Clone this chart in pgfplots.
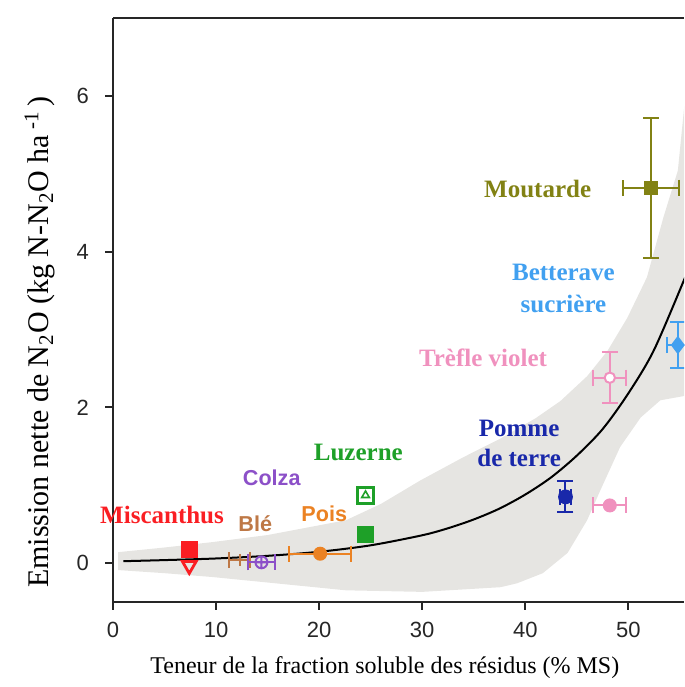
\documentclass[border=0pt]{standalone}
\usepackage{fontspec}
\setmainfont{Liberation Serif}
\setsansfont{Liberation Sans}
\usepackage{pgfplots}
\pgfplotsset{compat=1.18}

\definecolor{bandgray}{RGB}{230,229,226}
\definecolor{cmisc}{RGB}{250,30,35}
\definecolor{cble}{RGB}{190,120,70}
\definecolor{ccolza}{RGB}{140,80,200}
\definecolor{cpois}{RGB}{235,130,35}
\definecolor{cluz}{RGB}{30,160,40}
\definecolor{cmout}{RGB}{130,130,20}
\definecolor{cbett}{RGB}{65,160,240}
\definecolor{ctrefle}{RGB}{240,145,190}
\definecolor{cpomme}{RGB}{25,40,170}

\pgfplotsset{
  eb/.style={only marks, line width=1pt,
    error bars/x dir=both, error bars/x explicit,
    error bars/y dir=both, error bars/y explicit,
    error bars/error bar style={line width=1pt},
    error bars/error mark options={rotate=90, line width=1pt, mark size=4pt}},
}
\tikzset{
  serlab/.style={font=\bfseries\fontsize{12.5}{15}\selectfont, align=center},
  sanslab/.style={font=\sffamily\bfseries\fontsize{10.8}{13}\selectfont},
}

\begin{document}
\begin{tikzpicture}
\begin{axis}[
  scale only axis, width=285.5pt, height=292pt,
  xmin=0, xmax=55.4, ymin=-0.5, ymax=7,
  clip mode=individual,
  axis lines=left,
  axis line style={-, line width=1pt, black!85},
  xtick={0,10,...,50}, ytick={0,2,4,6},
  tick align=outside, major tick length=4pt,
  tick style={line width=1pt, black!85},
  ticklabel style={font=\sffamily\fontsize{11}{13}\selectfont, text=black!85},
  xticklabel style={yshift=-2.5pt},
  yticklabel style={xshift=-4.5pt},
  /pgf/number format/assume math mode=true,
  xlabel={Teneur de la fraction soluble des résidus (\% MS)},
  ylabel={Emission nette de N\textsubscript{2}O (kg N-N\textsubscript{2}O ha\,\textsuperscript{-1}\,)},
  x label style={at={(axis description cs:0.476,-0.113)}, anchor=center,
    font=\fontsize{12}{14}\selectfont},
  y label style={at={(axis description cs:-0.128,0.445)}, anchor=center,
    font=\fontsize{15}{17}\selectfont},
]
% confidence band
\addplot[fill=bandgray, draw=none] coordinates {
  (0.5,0.14) (5,0.20) (9.7,0.27) (15,0.36) (22.6,0.55) (26,0.76) (29.8,1.06)
  (34,1.36) (37.6,1.60) (41,1.86) (43.4,2.08) (46,2.40) (48,2.73) (49.9,3.15)
  (51.8,3.67) (53.4,4.44) (54.8,5.04) (55.6,6.10)
  (55.6,2.15) (53.1,2.09) (51.2,1.87) (49.2,1.49) (47.3,0.94) (46,0.55)
  (44.1,0.13) (41.7,-0.13) (39.2,-0.26) (37.6,-0.31) (30,-0.37) (22.6,-0.35)
  (15,-0.25) (9.7,-0.18) (5,-0.13) (0.5,-0.09)
} -- cycle;
% fitted curve
\addplot[black, line width=1pt, smooth] coordinates {
  (1,0.024) (5,0.038) (10,0.059) (15,0.093) (20,0.145) (25,0.228) (30,0.357)
  (32.5,0.447) (35,0.56) (37.5,0.70) (40,0.88) (42.5,1.10) (45,1.38)
  (47.5,1.72) (50,2.18) (52.5,2.74) (55.6,3.70)
};
% Miscanthus
\addplot[only marks, mark=square*, cmisc, mark size=4pt] coordinates {(7.4,0.17)};
\addplot[only marks, mark=triangle, cmisc, mark size=4pt, line width=1.4pt,
  mark options={rotate=180}] coordinates {(7.4,-0.03)};
% Blé
\addplot[cble, eb, mark=|, mark size=3pt] coordinates {(12.3,0.04) +- (1.0,0)};
% Colza
\addplot[ccolza, eb, mark=oplus, mark size=3pt, mark options={fill=white}] coordinates {(14.4,0.01) +- (1.3,0)};
% Pois
\addplot[cpois, eb, mark=*, mark size=3pt] coordinates {(20.1,0.12) +- (3.0,0)};
% Luzerne
\addplot[only marks, cluz, mark=square, mark size=4pt, line width=1.2pt] coordinates {(24.5,0.87)};
\addplot[only marks, cluz, mark=triangle, mark size=2.2pt, line width=0.8pt] coordinates {(24.5,0.87)};
\addplot[only marks, cluz, mark=square*, mark size=4pt] coordinates {(24.5,0.37)};
% Pomme de terre
\addplot[cpomme, eb, mark=*, mark size=3.2pt] coordinates {(43.9,0.85) +- (0.55,0.2)};
% Trèfle violet
\addplot[ctrefle, eb, mark=*, mark size=3pt] coordinates {(48.2,0.74) +- (1.6,0)};
\addplot[ctrefle, eb, mark=*, mark size=2.6pt, mark options={fill=white}] coordinates {(48.2,2.38) +- (1.6,0.33)};
% Moutarde
\addplot[cmout, eb, mark=square*, mark size=3pt] coordinates {(52.2,4.82) +- (2.7,0.9)};
% Betterave sucrière
\addplot[cbett, eb, mark=diamond*, mark size=3.8pt] coordinates {(54.8,2.80) +- (1.1,0.3)};

\node[serlab, text=cmisc] at (axis cs:4.76,0.62) {Miscanthus};
\node[sanslab, text=cble] at (axis cs:13.8,0.51) {Blé};
\node[sanslab, text=ccolza] at (axis cs:15.4,1.10) {Colza};
\node[sanslab, text=cpois] at (axis cs:20.5,0.63) {Pois};
\node[serlab, text=cluz] at (axis cs:23.8,1.42) {Luzerne};
\node[serlab, text=cmout] at (axis cs:41.2,4.81) {Moutarde};
\node[serlab, text=cbett, font=\bfseries\fontsize{12.5}{16}\selectfont] at (axis cs:43.7,3.53) {Betterave\\sucrière};
\node[serlab, text=ctrefle] at (axis cs:35.9,2.64) {Trèfle violet};
\node[serlab, text=cpomme] at (axis cs:39.4,1.53) {Pomme\\de terre};

\draw[line width=1pt, black!85] (rel axis cs:0,1) -- (rel axis cs:1,1);
\coordinate (ll) at (rel axis cs:0,0);
\coordinate (ur) at (rel axis cs:1,1);
\end{axis}
\pgfresetboundingbox
\path ([xshift=-56.5pt,yshift=-42.5pt]ll) rectangle ([yshift=9pt]ur);
\end{tikzpicture}
\end{document}
